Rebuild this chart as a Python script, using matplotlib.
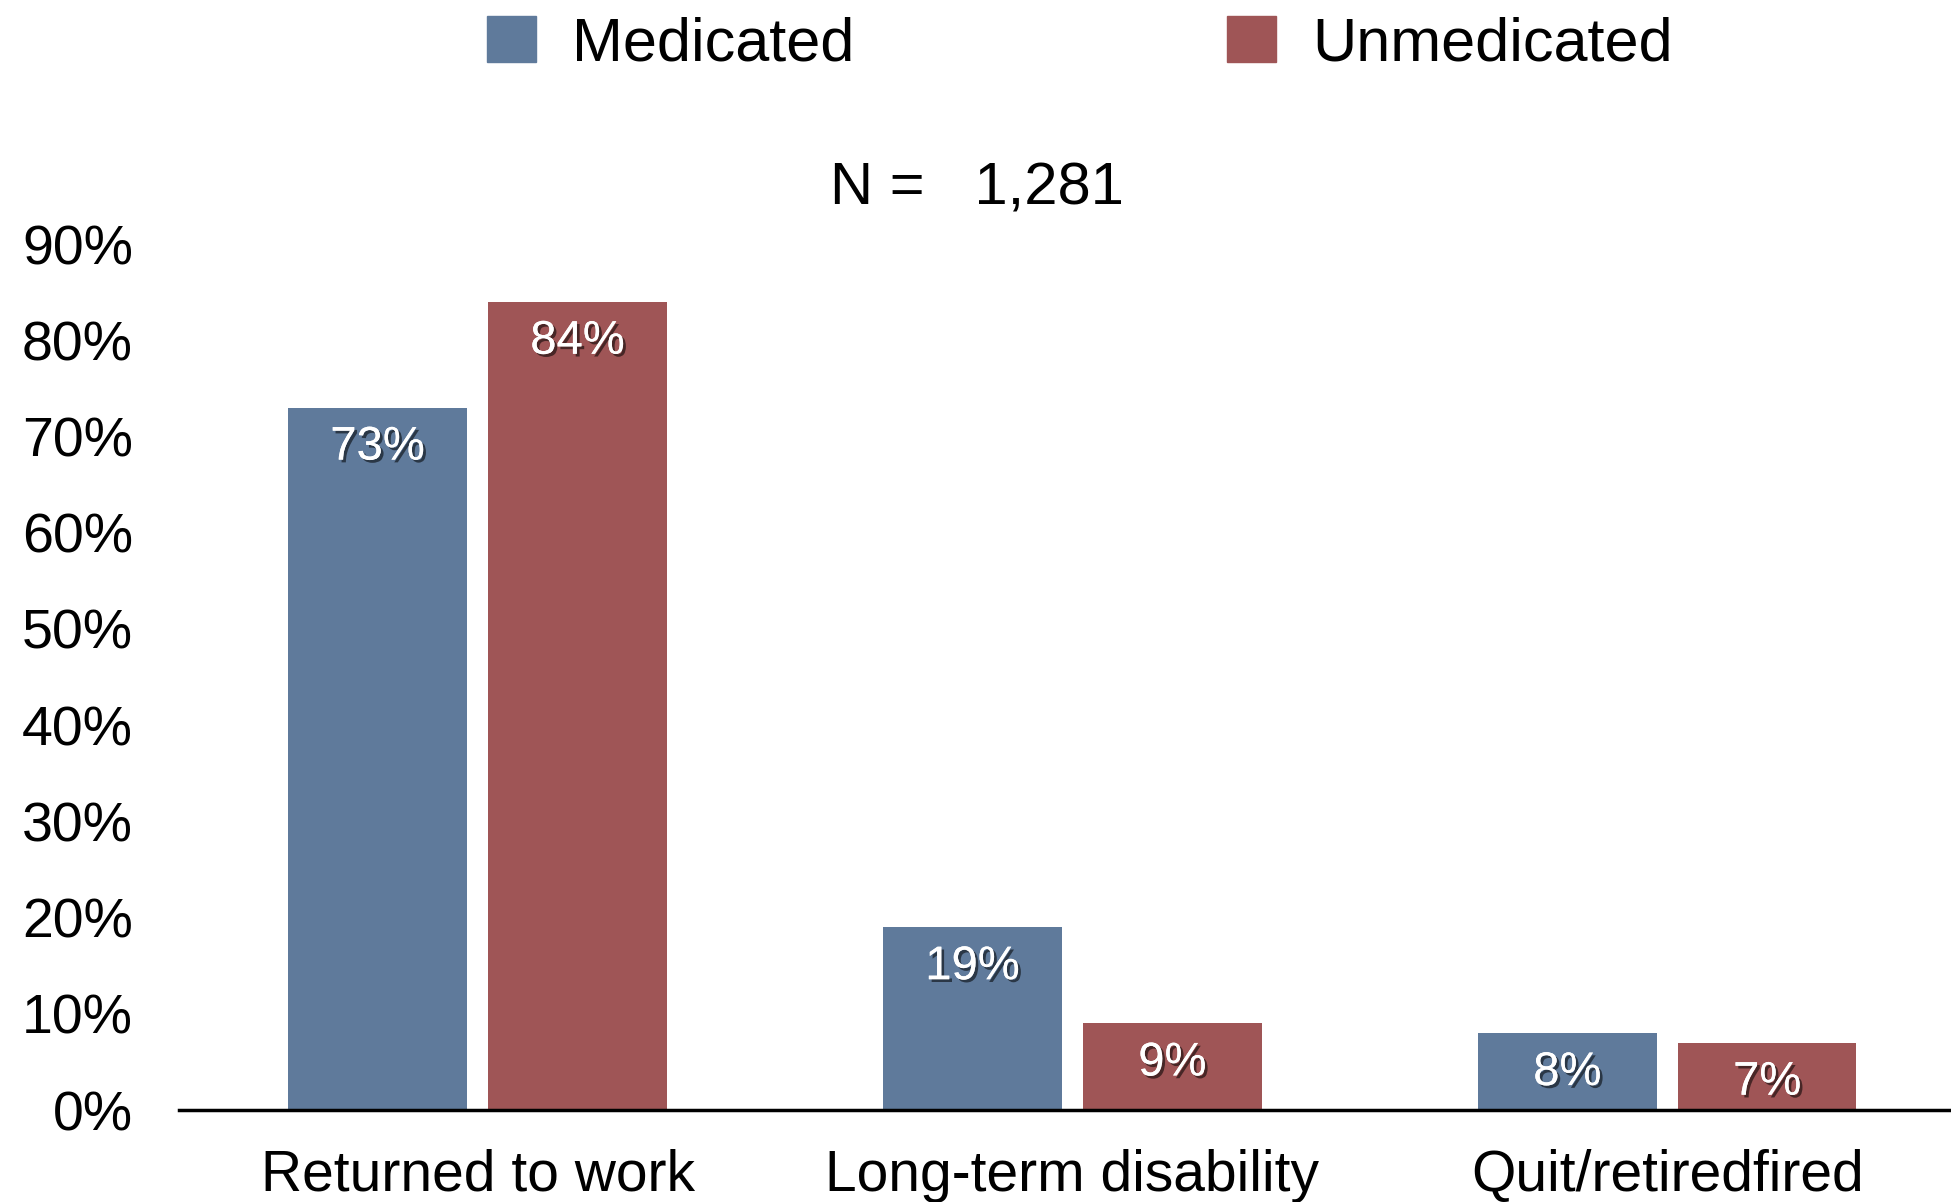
import numpy as np
import matplotlib
matplotlib.use('Agg')
import matplotlib.pyplot as plt
import matplotlib.patches as mpatches
import matplotlib.patheffects as pe

plt.rcParams['font.family'] = ['Liberation Sans', 'DejaVu Sans']

categories = ['Returned to work', 'Long-term disability', 'Quit/retiredfired']
series = ['Medicated', 'Unmedicated']
medicated = [73, 19, 8]
unmedicated = [84, 9, 7]
yticks = [0, 10, 20, 30, 40, 50, 60, 70, 80, 90]
blue = '#5f7a9b'
red = '#9f5556'

fig = plt.figure(figsize=(19.51, 12.02), dpi=100)
ax = fig.add_axes([0.0917, 0.0765, 0.9083, 0.7205])

x = np.arange(len(categories))
w = 0.30
off = 0.168
b1 = ax.bar(x - off, medicated, w, color=blue)
b2 = ax.bar(x + off, unmedicated, w, color=red)

# white value labels with a soft drop shadow
shadow = [pe.withSimplePatchShadow(offset=(2, -2), shadow_rgbFace='black', alpha=0.55),
          pe.Normal()]
for bars, vals in ((b1, medicated), (b2, unmedicated)):
    for b, v in zip(bars, vals):
        ax.annotate(f'{v}%', (b.get_x() + b.get_width() / 2, v),
                    xytext=(0, -40), textcoords='offset pixels',
                    ha='center', va='center', color='white', fontsize=34,
                    path_effects=shadow)

ax.set_xlim(-0.502, 2.477)
ax.set_ylim(0, 90)
ax.set_yticks(yticks)
ax.set_yticklabels([f'{t}%' for t in yticks], fontsize=40)
ax.set_xticks(x)
ax.set_xticklabels(categories, fontsize=41)
ax.tick_params(axis='y', length=0, pad=33)
ax.tick_params(axis='x', length=0, pad=28)
for s in ('left', 'right', 'top'):
    ax.spines[s].set_visible(False)
ax.spines['bottom'].set_linewidth(2.5)

handles = [mpatches.Patch(color=blue, label=series[0]),
           mpatches.Patch(color=red, label=series[1])]
fig.legend(handles=handles, loc='center', bbox_to_anchor=(0.5536, 0.9625),
           ncol=2, frameon=False, fontsize=44, handlelength=0.79,
           handleheight=0.78, handletextpad=0.6, columnspacing=6.1, borderpad=0)

fig.text(0.5008, 0.843, 'N =   1,281', ha='center', va='center', fontsize=43)

fig.savefig('out.png', dpi=100)
